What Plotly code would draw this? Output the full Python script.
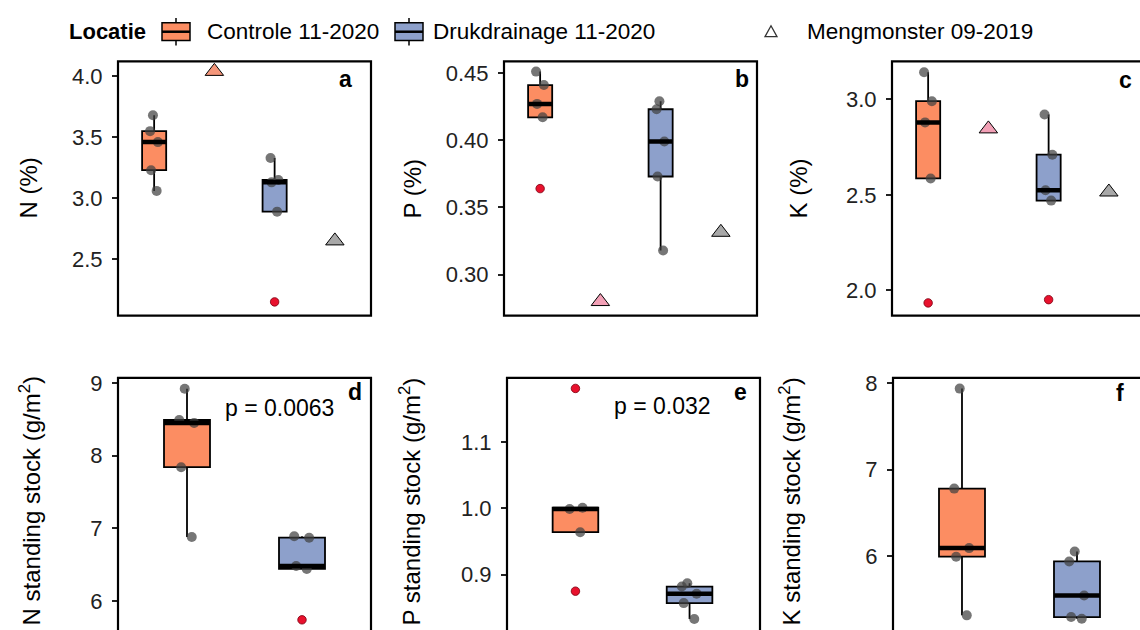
import numpy as np
import plotly.graph_objects as go

# ---- data -------------------------------------------------------------
groups = ["Controle 11-2020", "Drukdrainage 11-2020"]
mix_label = "Mengmonster 09-2019"

# nutrient concentrations (%)
n_ctrl = [3.06, 3.23, 3.46, 3.55, 3.68]
n_drk = [2.15, 2.89, 3.13, 3.15, 3.33]
n_mix = [4.04, 2.65]

p_ctrl = [0.364, 0.417, 0.427, 0.441, 0.451]
p_drk = [0.318, 0.373, 0.399, 0.423, 0.429]
p_mix = [0.280, 0.3315]

k_ctrl = [1.935, 2.586, 2.879, 2.99, 3.141]
k_drk = [1.952, 2.47, 2.524, 2.71, 2.92]
k_mix = [2.845, 2.515]

# standing stocks (g/m2)
ns_ctrl = [6.88, 7.84, 8.45, 8.49, 8.92]
ns_drk = [5.74, 6.44, 6.48, 6.87, 6.89]

ps_ctrl = [0.875, 0.964, 0.999, 1.001, 1.181]
ps_drk = [0.833, 0.857, 0.871, 0.882, 0.887]

ks_ctrl = [5.31, 5.99, 6.09, 6.78, 7.94]
ks_drk = [5.27, 5.29, 5.54, 5.935, 6.05]

p_values = {"d": "p = 0.0063", "e": "p = 0.032"}

# ---- style ------------------------------------------------------------
W, H = 1140, 630
FONT = "Liberation Sans, Arial, sans-serif"
C_CTRL = "#FC8D62"
C_DRK = "#8DA0CB"
MIX_FILL = {"a": ["#F4967A", "#A8A8A8"], "b": ["#F2A0B6", "#A8A8A8"], "c": ["#F2A0B6", "#A8A8A8"]}
BOX_W = 0.4
TICK_COL = "#222222"


def px(x):
    return x / W


def py(y):
    return 1 - y / H


fig = go.Figure()

# panel layout: key -> (axis index, x domain px, y domain px, x range, y range, ticks, fmt, title)
panels = {
    "a": (1, (118, 371), (55, 312), [0.4, 4.6], [2.038, 4.122], [2.5, 3.0, 3.5, 4.0], ".1f", "N (%)"),
    "b": (2, (504, 757), (55, 312), [0.4, 4.6], [0.2696, 0.4586], [0.30, 0.35, 0.40, 0.45], ".2f", "P (%)"),
    "c": (3, (892, 1140), (55, 312), [0.4, 4.517], [1.869, 3.198], [2.0, 2.5, 3.0], ".1f", "K (%)"),
    "d": (4, (118, 371), (375, 630), [0.4, 2.6], [5.60, 9.07], [6, 7, 8, 9], "d", "N standing stock (g/m<sup>2</sup>)"),
    "e": (5, (507, 758), (375, 630), [0.4, 2.6], [0.8164, 1.197], [0.9, 1.0, 1.1], ".1f", "P standing stock (g/m<sup>2</sup>)"),
    "f": (6, (893, 1140), (375, 630), [0.4, 2.548], [5.14, 8.065], [6, 7, 8], "d", "K standing stock (g/m<sup>2</sup>)"),
}

panel_data = {
    "a": (n_ctrl, n_drk, n_mix),
    "b": (p_ctrl, p_drk, p_mix),
    "c": (k_ctrl, k_drk, k_mix),
    "d": (ns_ctrl, ns_drk, None),
    "e": (ps_ctrl, ps_drk, None),
    "f": (ks_ctrl, ks_drk, None),
}


def split_outliers(vals):
    v = np.asarray(vals, dtype=float)
    q1, q3 = np.percentile(v, [25, 75])
    iqr = q3 - q1
    mask = (v < q1 - 1.5 * iqr) | (v > q3 + 1.5 * iqr)
    return v[~mask], v[mask]


def add_group(vals, pos, color, xa, ya):
    inl, outl = split_outliers(vals)
    q1, med, q3 = np.percentile(vals, [25, 50, 75])
    # box with whiskers, fences computed from the inlying values
    fig.add_trace(go.Box(
        x=[pos], q1=[q1], median=[med], q3=[q3],
        lowerfence=[inl.min()], upperfence=[inl.max()],
        width=BOX_W, whiskerwidth=0, fillcolor=color,
        line=dict(color="black", width=1.8), boxpoints=False,
        xaxis=xa, yaxis=ya, showlegend=False, hoverinfo="skip"))
    # thick median bar
    fig.add_trace(go.Scatter(
        x=[pos - BOX_W / 2, pos + BOX_W / 2], y=[med, med], mode="lines",
        line=dict(color="black", width=4.5), xaxis=xa, yaxis=ya,
        showlegend=False, hoverinfo="skip"))
    # jittered observations
    fig.add_trace(go.Box(
        x=[pos] * len(inl), y=inl, boxpoints="all", jitter=0.4, pointpos=0,
        width=BOX_W, fillcolor="rgba(0,0,0,0)", line=dict(width=0, color="rgba(0,0,0,0)"),
        marker=dict(color="rgba(65,65,65,0.72)", size=10),
        xaxis=xa, yaxis=ya, showlegend=False, hoverinfo="skip"))
    # outliers
    if len(outl):
        fig.add_trace(go.Scatter(
            x=[pos] * len(outl), y=outl, mode="markers",
            marker=dict(color="#E8112D", size=8.5, line=dict(color="#7a0010", width=0.8)),
            xaxis=xa, yaxis=ya, showlegend=False, hoverinfo="skip"))


layout_axes = {}
shapes = []
annotations = []

for key, (i, xd, yd, xr, yr, ticks, fmt, title) in panels.items():
    xa = "x" if i == 1 else f"x{i}"
    ya = "y" if i == 1 else f"y{i}"
    ctrl, drk, mix = panel_data[key]
    if mix is not None:
        pos_ctrl, pos_drk, pos_mix = 1, 3, [2, 4]
    else:
        pos_ctrl, pos_drk, pos_mix = 1, 2, None
    add_group(ctrl, pos_ctrl, C_CTRL, xa, ya)
    add_group(drk, pos_drk, C_DRK, xa, ya)
    if mix is not None:
        fig.add_trace(go.Scatter(
            x=pos_mix, y=mix, mode="markers",
            marker=dict(symbol="triangle-up", size=16, color=MIX_FILL[key],
                        line=dict(color="black", width=1)),
            xaxis=xa, yaxis=ya, showlegend=False, hoverinfo="skip", cliponaxis=False))

    x_dom = [px(xd[0]), min(1.0, px(xd[1]))]
    y_dom = [max(0.0, py(yd[1])), py(yd[0])]
    xname = "xaxis" if i == 1 else f"xaxis{i}"
    yname = "yaxis" if i == 1 else f"yaxis{i}"
    layout_axes[xname] = dict(domain=x_dom, range=xr, visible=False, anchor=ya,
                              showgrid=False, zeroline=False)
    layout_axes[yname] = dict(
        domain=y_dom, range=yr, anchor=xa, tickvals=ticks, tickformat=fmt,
        ticks="outside", ticklen=5, tickwidth=1.5, tickcolor=TICK_COL,
        ticklabelstandoff=5,
        tickfont=dict(family=FONT, size=22, color=TICK_COL),
        showgrid=False, zeroline=False, showline=False)

    # panel frame (parts that run past the page edge are simply cut off)
    full_w = 253
    full_h = 257
    x0, y0 = xd[0], yd[0]
    shapes.append(dict(type="rect", xref="paper", yref="paper",
                       x0=px(x0), x1=px(x0 + full_w), y0=py(y0 + full_h), y1=py(y0),
                       line=dict(color="black", width=2.2), fillcolor="rgba(0,0,0,0)",
                       layer="above"))

# y-axis titles
titles = {
    "a": (28, 183.5), "b": (412, 183.5), "c": (798, 183.5),
    "d": (30, 500), "e": (410, 500), "f": (790, 500),
}
for key, (tx, ty) in titles.items():
    annotations.append(dict(text=panels[key][7], x=px(tx), y=py(ty), xref="paper", yref="paper",
                            textangle=-90, showarrow=False, xanchor="center", yanchor="middle",
                            font=dict(family=FONT, size=24, color="black")))

# panel letters
letters = {"a": (345, 73), "b": (742, 73), "c": (1125, 74), "d": (355, 389), "e": (740, 389), "f": (1120, 390)}
for key, (lx, ly) in letters.items():
    annotations.append(dict(text=f"<b>{key}</b>", x=px(lx), y=py(ly), xref="paper", yref="paper",
                            showarrow=False, xanchor="center", yanchor="middle",
                            font=dict(family=FONT, size=23, color="black")))

# p-values
for key, (lx, ly) in {"d": (279, 405), "e": (662, 403)}.items():
    annotations.append(dict(text=p_values[key], x=px(lx), y=py(ly), xref="paper", yref="paper",
                            showarrow=False, xanchor="center", yanchor="middle",
                            font=dict(family=FONT, size=23, color="black")))

# ---- legend row ---------------------------------------------------------
LEG_Y = 25
annotations.append(dict(text="<b>Locatie</b>", x=px(67), y=py(LEG_Y), xref="paper", yref="paper",
                        showarrow=False, xanchor="left", yanchor="middle",
                        font=dict(family=FONT, size=22, color="black")))


def legend_box(xl, color):
    xr = xl + 28
    xc = (xl + xr) / 2
    shapes.append(dict(type="line", xref="paper", yref="paper", x0=px(xc), x1=px(xc),
                       y0=py(LEG_Y + 14), y1=py(LEG_Y - 14), line=dict(color="black", width=1.5)))
    shapes.append(dict(type="rect", xref="paper", yref="paper", x0=px(xl), x1=px(xr),
                       y0=py(LEG_Y + 9), y1=py(LEG_Y - 9), fillcolor=color,
                       line=dict(color="black", width=1.5)))
    shapes.append(dict(type="line", xref="paper", yref="paper", x0=px(xl), x1=px(xr),
                       y0=py(LEG_Y), y1=py(LEG_Y), line=dict(color="black", width=2.5)))


legend_box(162, C_CTRL)
annotations.append(dict(text=groups[0], x=px(205), y=py(LEG_Y), xref="paper", yref="paper",
                        showarrow=False, xanchor="left", yanchor="middle",
                        font=dict(family=FONT, size=22.5, color="black")))
legend_box(395, C_DRK)
annotations.append(dict(text=groups[1], x=px(431), y=py(LEG_Y), xref="paper", yref="paper",
                        showarrow=False, xanchor="left", yanchor="middle",
                        font=dict(family=FONT, size=22.5, color="black")))
# open triangle key
tx, ty = 771, LEG_Y
shapes.append(dict(type="path", xref="paper", yref="paper",
                   path=f"M {px(tx - 6)} {py(ty + 5)} L {px(tx + 6)} {py(ty + 5)} L {px(tx)} {py(ty - 6)} Z",
                   line=dict(color="#333333", width=1.3), fillcolor="rgba(0,0,0,0)"))
annotations.append(dict(text=mix_label, x=px(805), y=py(LEG_Y), xref="paper", yref="paper",
                        showarrow=False, xanchor="left", yanchor="middle",
                        font=dict(family=FONT, size=22.5, color="black")))

fig.update_layout(
    width=W, height=H, margin=dict(l=0, r=0, t=0, b=0),
    paper_bgcolor="white", plot_bgcolor="white",
    boxmode="overlay", showlegend=False,
    shapes=shapes, annotations=annotations,
    font=dict(family=FONT),
    **layout_axes,
)

fig.write_html("out.html")
